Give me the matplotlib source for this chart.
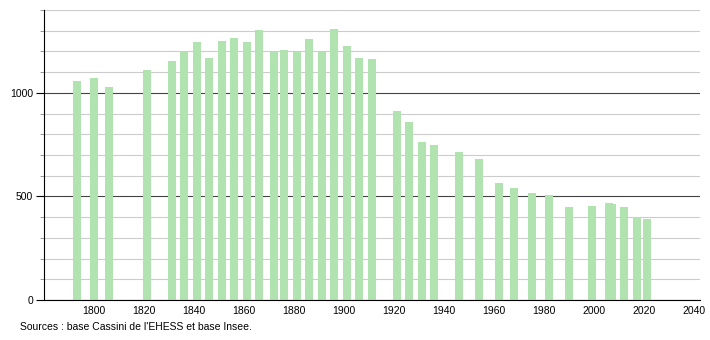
import matplotlib.pyplot as plt
from matplotlib.ticker import MultipleLocator

years = [1793, 1800, 1806, 1821, 1831, 1836, 1841, 1846, 1851, 1856,
         1861, 1866, 1872, 1876, 1881, 1886, 1891, 1896, 1901, 1906,
         1911, 1921, 1926, 1931, 1936, 1946, 1954, 1962, 1968, 1975,
         1982, 1990, 1999, 2006, 2007, 2012, 2017, 2021]
population = [1058, 1072, 1026, 1111, 1155, 1197, 1246, 1169, 1251, 1264,
              1245, 1304, 1197, 1208, 1197, 1259, 1197, 1309, 1224, 1169,
              1163, 913, 860, 763, 749, 716, 681, 565, 543, 518,
              507, 449, 454, 466, 462, 451, 402, 393]
x_ticks = [1800, 1820, 1840, 1860, 1880, 1900, 1920, 1940, 1960, 1980, 2000, 2020, 2040]
y_ticks = [0, 500, 1000]
source = "Sources : base Cassini de l'EHESS et base Insee."

plt.rcParams['font.family'] = ['Liberation Sans', 'DejaVu Sans']

fig = plt.figure(figsize=(7.1, 3.4), dpi=100)
ax = fig.add_axes([44 / 710, 40 / 340, 656 / 710, 290 / 340])

ax.bar(years, population, width=3.2, color='#b1e3b1', zorder=2)

ax.set_xlim(1780, 2042.4)
ax.set_ylim(0, 1400)

ax.set_xticks(x_ticks)
ax.set_yticks(y_ticks)
ax.yaxis.set_minor_locator(MultipleLocator(100))
ax.tick_params(axis='x', length=0, labelsize=7.5, pad=4)
ax.tick_params(axis='y', which='major', length=6, width=0.8, labelsize=7.5, pad=2)
ax.tick_params(axis='y', which='minor', length=3, width=0.6, color='#888888')

ax.grid(axis='y', which='minor', color='#cccccc', linewidth=0.8, zorder=0)
ax.grid(axis='y', which='major', color='#444444', linewidth=0.8, zorder=1)
ax.set_axisbelow(True)

ax.spines['top'].set_visible(False)
ax.spines['right'].set_visible(False)
ax.spines['left'].set_color('black')
ax.spines['bottom'].set_color('black')

fig.text(20 / 710, 1 - 327 / 340, source, fontsize=7.5, va='center', ha='left')

plt.savefig('out.png', dpi=100)
